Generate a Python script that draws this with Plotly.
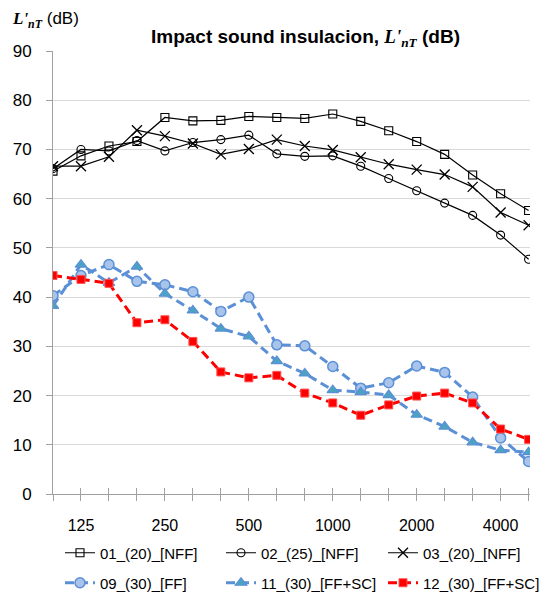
import plotly.graph_objects as go

freqs = ["100", "125", "160", "200", "250", "315", "400", "500", "630", "800",
         "1000", "1250", "1600", "2000", "2500", "3150", "4000", "5000"]
tick_labels = ["125", "250", "500", "1000", "2000", "4000"]

s01 = [65.6, 68.7, 70.7, 71.6, 76.5, 75.8, 75.9, 76.7, 76.5, 76.3, 77.2, 75.7, 73.8, 71.6, 69.0, 64.8, 61.0, 57.6]
s02 = [66.1, 70.0, 69.7, 71.8, 69.7, 71.4, 72.0, 72.9, 69.1, 68.6, 68.7, 66.6, 64.1, 61.6, 59.1, 56.6, 52.6, 47.7]
s03 = [66.6, 66.6, 68.5, 73.9, 72.7, 71.2, 69.0, 70.1, 72.0, 70.7, 69.9, 68.4, 67.0, 65.9, 64.9, 62.4, 57.2, 54.6]
s09 = [40.3, 44.4, 46.6, 43.2, 42.5, 41.1, 37.1, 40.0, 30.3, 30.1, 25.9, 21.5, 22.6, 26.0, 24.7, 19.7, 11.4, 6.6]
s11 = [38.2, 46.6, 42.9, 46.2, 40.7, 37.3, 33.6, 32.0, 27.0, 24.5, 21.1, 20.7, 20.1, 16.1, 13.7, 10.5, 8.9, 8.5]
s12 = [44.4, 43.6, 42.8, 34.8, 35.4, 31.0, 24.8, 23.6, 24.1, 20.5, 18.5, 16.0, 18.1, 19.9, 20.5, 18.5, 13.2, 11.1]

names = ["01_(20)_[NFF]", "02_(25)_[NFF]", "03_(20)_[NFF]",
         "09_(30)_[FF]", "11_(30)_[FF+SC]", "12_(30)_[FF+SC]"]

x = list(range(len(freqs)))
label_pos = [freqs.index(t) for t in tick_labels]
BLUE = "#5B8FD6"
FONT = "Liberation Sans, Arial, sans-serif"
SERIF = "Liberation Serif"

# page body adds an 8px offset, so the figure is sized to fit inside it
W, H = 544, 589
L, R, T, B = 45, 22, 43, 103
PW, PH = W - L - R, H - T - B

fig = go.Figure()
fig.add_trace(go.Scatter(x=x, y=s01, name=names[0], mode="lines+markers", legend="legend",
                         line=dict(color="black", width=1.2),
                         marker=dict(symbol="square-open", size=8, color="black", line=dict(width=1.1))))
fig.add_trace(go.Scatter(x=x, y=s02, name=names[1], mode="lines+markers", legend="legend2",
                         line=dict(color="black", width=1.2),
                         marker=dict(symbol="circle-open", size=8, color="black", line=dict(width=1.1))))
fig.add_trace(go.Scatter(x=x, y=s03, name=names[2], mode="lines+markers", legend="legend3",
                         line=dict(color="black", width=1.2),
                         marker=dict(symbol="x-thin-open", size=10, color="black", line=dict(width=1.3, color="black"))))
fig.add_trace(go.Scatter(x=x, y=s09, name=names[3], mode="lines+markers", legend="legend4",
                         line=dict(color=BLUE, width=3, dash="9px,5px"),
                         marker=dict(symbol="circle", size=10, color="#A9C4EB", line=dict(width=1.5, color=BLUE))))
fig.add_trace(go.Scatter(x=x, y=s11, name=names[4], mode="lines+markers", legend="legend5",
                         line=dict(color=BLUE, width=3, dash="9px,5px"),
                         marker=dict(symbol="triangle-up", size=10, color="#4BA3C3", line=dict(width=1.2, color=BLUE))))
fig.add_trace(go.Scatter(x=x, y=s12, name=names[5], mode="lines+markers", legend="legend6",
                         line=dict(color="#FF0000", width=3, dash="9px,5px"),
                         marker=dict(symbol="square", size=8, color="#FF0000", line=dict(width=1, color="#FF5050"))))
# invisible trace carrying the inward tick marks on an overlaid axis
fig.add_trace(go.Scatter(x=[x[0], x[-1]], y=[0, 0], xaxis="x2", mode="markers",
                         marker=dict(opacity=0), showlegend=False, hoverinfo="skip"))

legend_common = dict(orientation="h", xanchor="left", yanchor="middle", xref="container", yref="container",
                     font=dict(size=15, family=FONT), itemwidth=30, bgcolor="rgba(0,0,0,0)", borderwidth=0)
col_x = [52, 213, 375]
row_y = [545, 575]
legends = {}
for i in range(6):
    key = "legend" if i == 0 else f"legend{i + 1}"
    legends[key] = dict(x=col_x[i % 3] / W, y=1 - row_y[i // 3] / H, **legend_common)

fig.update_layout(
    width=W, height=H,
    margin=dict(l=L, r=R, t=T, b=B, autoexpand=False),
    paper_bgcolor="white", plot_bgcolor="white",
    font=dict(family=FONT, size=16, color="black"),
    showlegend=True,
    annotations=[
        dict(text="<b>Impact sound insulacion, </b><span style='font-family:" + SERIF + "'><b><i>L'</i></b><sub><b><i>nT</i></b></sub></span><b> (dB)</b>",
             xref="paper", yref="paper", x=(297 - L) / PW, y=1 + (T - 30) / PH,
             xanchor="center", yanchor="middle", showarrow=False,
             font=dict(size=19, family=FONT)),
        dict(text="<span style='font-family:" + SERIF + "'><b><i>L'</i></b><sub><b><i>nT</i></b></sub></span> (dB)",
             xref="paper", yref="paper", x=(2 - L) / PW, y=1 + (T - 12) / PH,
             xanchor="left", yanchor="middle", showarrow=False, font=dict(size=17)),
    ],
    **legends,
)
fig.update_layout(xaxis2=dict(overlaying="x", matches="x", anchor="y", side="bottom",
                              tickvals=x, ticks="inside", ticklen=6, tickcolor="#A0A0A0",
                              showticklabels=False, showgrid=False, zeroline=False, showline=False))
fig.update_layout(xaxis=dict(range=[0, 17.05], tickvals=label_pos, ticktext=tick_labels,
                             ticks="outside", ticklen=6, tickcolor="#A0A0A0",
                             minor=dict(tickvals=x, ticks="outside", ticklen=6, tickcolor="#A0A0A0"),
                             showline=True, linecolor="#A0A0A0", linewidth=1,
                             showgrid=False, zeroline=False, tickfont=dict(size=16), ticklabelstandoff=11))
fig.update_yaxes(range=[0, 90], dtick=10, ticks="outside", ticklen=6, tickcolor="#A0A0A0",
                 showline=True, linecolor="#A0A0A0", linewidth=1,
                 showgrid=True, gridcolor="#D9D9D9", gridwidth=1, zeroline=False,
                 tickfont=dict(size=17), ticklabelstandoff=11)

fig.write_html("out.html")
